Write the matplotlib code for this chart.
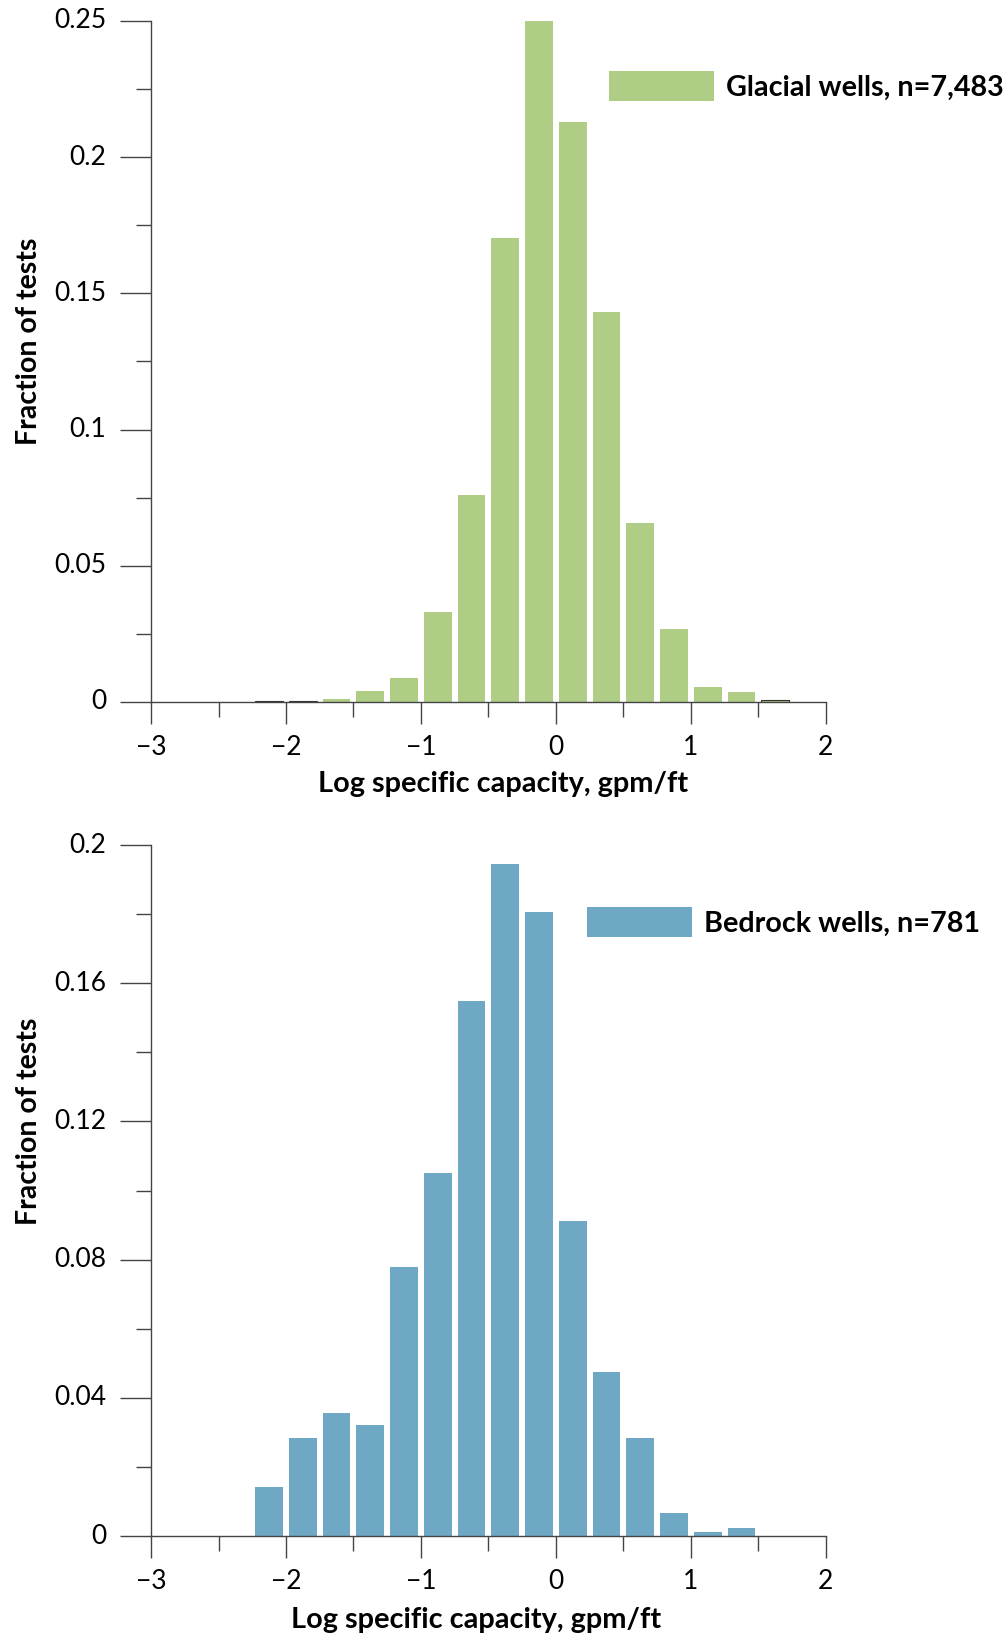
import matplotlib
matplotlib.use("Agg")
import matplotlib.pyplot as plt
from matplotlib.ticker import MultipleLocator, FixedLocator
from matplotlib.patches import Patch

plt.rcParams['font.family'] = ['Lato', 'DejaVu Sans']

# bin centres (bins 0.25 wide in log specific capacity)
centros = [-2.125, -1.875, -1.625, -1.375, -1.125, -0.875, -0.625, -0.375,
           -0.125, 0.125, 0.375, 0.625, 0.875, 1.125, 1.375, 1.625]

glaciar = [0.0003, 0.0003, 0.0012, 0.0042, 0.0088, 0.033, 0.076, 0.1705,
           0.25, 0.213, 0.143, 0.0657, 0.0269, 0.0054, 0.0038, 0.0009]
roca = [0.0142, 0.0284, 0.0357, 0.0321, 0.078, 0.105, 0.155, 0.1946,
        0.1806, 0.0911, 0.0475, 0.0284, 0.0067, 0.0012, 0.0024, 0.0]

yticks_top = [0, 0.05, 0.1, 0.15, 0.2, 0.25]
ylabels_top = ['0', '0.05', '0.1', '0.15', '0.2', '0.25']
yticks_bot = [0, 0.04, 0.08, 0.12, 0.16, 0.2]
ylabels_bot = ['0', '0.04', '0.08', '0.12', '0.16', '0.2']
xticks = [-3, -2, -1, 0, 1, 2]
xlabels = ['\u22123', '\u22122', '\u22121', '0', '1', '2']

verde = '#b0cd85'
azul = '#6fa8c4'
gris = '#444444'

fig = plt.figure(figsize=(10.07, 16.39), dpi=100)
ax1 = fig.add_axes([0.150, 0.5717, 0.670, 0.4155])
ax2 = fig.add_axes([0.150, 0.0628, 0.670, 0.4216])


def dibujar(ax, valores, color, ymax, yt, yl, ymenor, etiqueta, leg_xy, ylab_y, xlab_x):
    bordes = ['#333333' if 0 < v < 0.001 else 'none' for v in valores]
    ax.bar(centros, valores, width=0.205, color=color, edgecolor=bordes, linewidth=0.8)
    ax.set_xlim(-3, 2)
    ax.set_ylim(0, ymax)
    for s in ['top', 'right']:
        ax.spines[s].set_visible(False)
    for s in ['left', 'bottom']:
        ax.spines[s].set_color(gris)
        ax.spines[s].set_linewidth(1.0)
    ax.set_xticks(xticks)
    ax.set_xticklabels(xlabels)
    ax.xaxis.set_minor_locator(FixedLocator([-2.5, -1.5, -0.5, 0.5, 1.5]))
    ax.set_yticks(yt)
    ax.set_yticklabels(yl)
    ax.yaxis.set_minor_locator(MultipleLocator(ymenor))
    ax.tick_params(axis='x', which='major', direction='out', length=16, width=1.0,
                   color=gris, labelsize=19, pad=8)
    ax.tick_params(axis='x', which='minor', direction='out', length=11, width=1.0, color=gris)
    ax.tick_params(axis='y', which='major', direction='out', length=22, width=1.0,
                   color=gris, labelsize=19, pad=10.3)
    ax.tick_params(axis='y', which='minor', direction='out', length=11, width=1.0, color=gris)
    for lab in ax.get_yticklabels():
        lab.set_verticalalignment('center')
    ax.set_xlabel('Log specific capacity, gpm/ft', fontsize=20.8, fontweight='bold')
    ax.set_ylabel('Fraction of tests', fontsize=20.5, fontweight='bold')
    ax.xaxis.set_label_coords(xlab_x, -0.102)
    ax.yaxis.set_label_coords(-0.161, ylab_y)
    leg = ax.legend(handles=[Patch(facecolor=color, edgecolor='none', label=etiqueta)],
                    loc='center left', bbox_to_anchor=leg_xy, bbox_transform=fig.transFigure,
                    frameon=False, borderpad=0, borderaxespad=0, handlelength=3.65,
                    handleheight=1.23, handletextpad=0.42,
                    prop={'size': 20.7, 'weight': 'bold'})
    return leg


dibujar(ax1, glaciar, verde, 0.25, yticks_top, ylabels_top, 0.025,
        'Glacial wells, n=7,483', (0.605, 0.9475), 0.529, 0.521)
dibujar(ax2, roca, azul, 0.2, yticks_bot, ylabels_bot, 0.02,
        'Bedrock wells, n=781', (0.583, 0.4375), 0.60, 0.481)

fig.savefig('out.png', dpi=100)
